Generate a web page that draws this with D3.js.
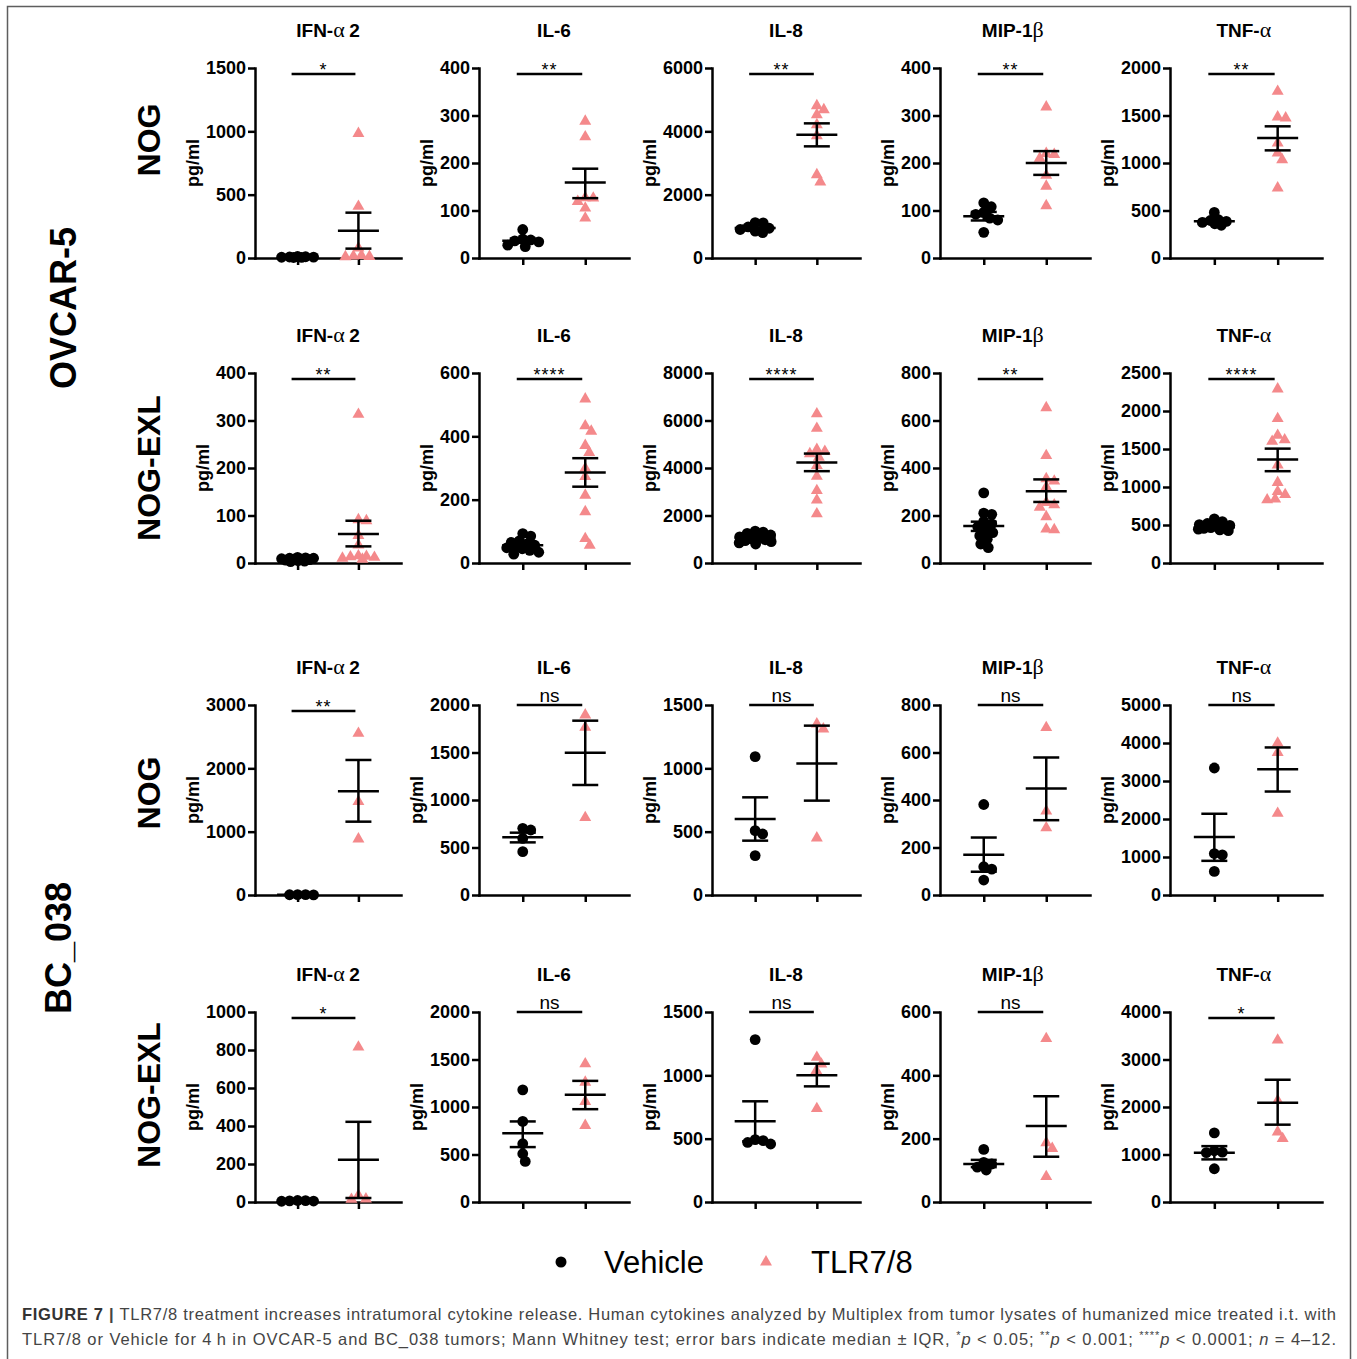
<!DOCTYPE html>
<html>
<head>
<meta charset="utf-8">
<script src="https://cdn.jsdelivr.net/npm/d3@7"></script>
<style>
  body { margin: 0; background: #fff; }
  svg { display: block; }
  text { font-family: "Liberation Sans", Arial, Helvetica, sans-serif; }
</style>
</head>
<body>
<svg id="fig" width="1357" height="1359"></svg>
<script>
// ---- data ---------------------------------------------------------------
const cytokines = ["IFN-α2", "IL-6", "IL-8", "MIP-1β", "TNF-α"];
const groups = ["Vehicle", "TLR7/8"];
const tumors = ["OVCAR-5", "BC_038"];
const models = ["NOG", "NOG-EXL", "NOG", "NOG-EXL"];

// y-axis maximum and tick step, one row per tumor/model panel row
const yMax  = [[1500, 400, 6000, 400, 2000],
               [400, 600, 8000, 800, 2500],
               [3000, 2000, 1500, 800, 5000],
               [1000, 2000, 1500, 600, 4000]];
const yStep = [[500, 100, 2000, 100, 500],
               [100, 200, 2000, 200, 500],
               [1000, 500, 500, 200, 1000],
               [200, 500, 500, 200, 1000]];

const significance = [["*", "**", "**", "**", "**"],
                      ["**", "****", "****", "**", "****"],
                      ["**", "ns", "ns", "ns", "ns"],
                      ["*", "ns", "ns", "ns", "*"]];

// individual measurements, pg/ml
const vehicleValues = [
  [[4, 6, 8, 10, 5, 7, 12],
   [60, 40, 38, 36, 34, 27, 24],
   [1120, 1110, 980, 940, 900, 850, 800],
   [116, 108, 96, 92, 84, 80, 54],
   [480, 405, 395, 385, 375, 360, 345]],
  [[12, 11, 10, 10, 9, 8, 8, 7, 6, 5, 4, 3],
   [93, 85, 70, 65, 60, 56, 52, 48, 45, 40, 34, 28],
   [1340, 1300, 1250, 1180, 1100, 1060, 1020, 980, 940, 900, 850, 800],
   [295, 210, 205, 175, 165, 152, 140, 128, 115, 100, 80, 65],
   [580, 545, 520, 505, 495, 485, 475, 465, 455, 445, 435, 425]],
  [[5, 3, 4, 6],
   [702, 684, 596, 456],
   [1092, 508, 482, 311],
   [381, 119, 109, 63],
   [3342, 1091, 1056, 620]],
  [[8, 6, 5, 7, 4],
   [1180, 848, 613, 508, 427],
   [1282, 492, 485, 458, 470],
   [166, 125, 120, 101, 110],
   [1454, 1078, 1050, 1040, 700]]
];
const tlrValues = [
  [[983, 408, 79, 15, 10, 12, 20],
   [288, 255, 126, 119, 127, 105, 84],
   [4810, 4684, 4526, 4210, 3863, 2631, 2400],
   [318, 220, 218, 210, 174, 151, 110],
   [1754, 1484, 1474, 1210, 1105, 1035, 737]],
  [[313, 91, 89, 58, 38, 15, 12, 10, 14, 8, 13],
   [518, 433, 416, 371, 349, 299, 273, 214, 162, 77, 56],
   [6280, 5670, 4780, 4700, 4600, 4450, 4100, 3650, 3050, 2650, 2070],
   [654, 452, 355, 345, 320, 255, 245, 235, 195, 143, 140],
   [2290, 1900, 1680, 1620, 1600, 1290, 1060, 940, 900, 840, 830]],
  [[2553, 1474, 884],
   [1895, 1765, 814],
   [1350, 1311, 450],
   [705, 353, 283],
   [3997, 3752, 2147]],
  [[815, 35, 16, 14],
   [1454, 1261, 1058, 806],
   [1142, 1089, 1037, 737],
   [516, 187, 169, 80],
   [3409, 2136, 1475, 1336]]
];

// error bars: [centre, lower, upper]
const vehicleBars = [
  [[7, 5, 10], [36.5, 32, 41], [947, 874, 1021], [88, 79, 97], [386, 361, 410]],
  [[9, 6, 11], [56, 45, 67], [1061, 949, 1159], [156, 135, 174], [471, 449, 493]],
  [[4, 3, 5], [607, 554, 656], [600, 429, 771], [169, 98, 242], [1527, 899, 2138]],
  [[6, 5, 7], [725, 578, 848], [637, 479, 795], [120, 110, 133], [1037, 897, 1176]]
];
const tlrBars = [
  [[216, 74, 358], [159, 126, 188], [3895, 3526, 4252], [200, 175, 225], [1263, 1133, 1386]],
  [[61, 35, 89], [286, 241, 331], [4230, 3867, 4607], [302, 257, 352], [1361, 1208, 1505]],
  [[1637, 1158, 2132], [1498, 1158, 1835], [1039, 745, 1337], [448, 315, 579], [3307, 2723, 3883]],
  [[223, 21, 422], [1128, 977, 1275], [1000, 913, 1092], [240, 143, 334], [2087, 1628, 2574]]
];

// ---- layout -------------------------------------------------------------
const colX = [255, 479, 712, 940, 1170];
const colW = [146, 150, 148, 150, 152];
const rowTop = [68, 373, 705, 1012];
const plotH = 190;
const modelLabelY = [140, 468, 793, 1095];
const tumorLabelY = [308, 948];
const tumorLabelX = [76, 71];
const TLR_COLOR = "#F4898B";
const STROKE = 2.5;

const svg = d3.select("#fig");

// frame
svg.append("rect")
  .attr("x", 7.5).attr("y", 6.5)
  .attr("width", 1343).attr("height", 1370)
  .attr("fill", "none").attr("stroke", "#5e5e5e").attr("stroke-width", 1.5);

// split a label so Greek letters get a symbol-like serif face
function richLabel(sel, label) {
  const parts = label.match(/[α-ω]|[^α-ω]+/g);
  parts.forEach(p => {
    const greek = /[α-ω]/.test(p);
    sel.append("tspan")
      .attr("font-family", greek ? "'Liberation Serif', 'DejaVu Serif', serif" : null)
      .attr("font-weight", greek ? "normal" : null)
      .attr("font-size", greek ? "22px" : null)
      .text(greek ? p + "\u2009" : p);
  });
}

// compact beeswarm: spread points sideways within a fixed half-width,
// letting them overlap once the strip is full
function swarm(vals, y, minD, maxSpread) {
  const pts = vals.map(v => ({ v, py: y(v) })).sort((a, b) => a.py - b.py);
  const placed = [];
  pts.forEach(p => {
    let chosen = null, bestCand = 0, bestGap = -1;
    for (let k = 0; ; k++) {
      const cand = (k % 2 ? 1 : -1) * Math.ceil(k / 2) * 0.5;
      if (Math.abs(cand) > maxSpread) break;
      const gap = placed.length
        ? d3.min(placed, q => Math.hypot(q.dx - cand, q.py - p.py))
        : Infinity;
      if (gap >= minD) { chosen = cand; break; }
      if (gap > bestGap) { bestGap = gap; bestCand = cand; }
    }
    p.dx = chosen !== null ? chosen : bestCand;
    placed.push(p);
  });
  return pts;
}

const triangle = d3.symbol().type(d3.symbolTriangle).size(62);

models.forEach((model, ri) => {
  cytokines.forEach((name, ci) => {
    const g = svg.append("g").attr("transform", `translate(${colX[ci]},${rowTop[ri]})`);
    const y = d3.scaleLinear().domain([0, yMax[ri][ci]]).range([plotH, 0]);
    const x = d3.scalePoint().domain(groups).range([0, colW[ci]]).padding(0.7);
    const ticks = d3.range(0, yMax[ri][ci] + 1e-6, yStep[ri][ci]);

    // title
    const title = g.append("text")
      .attr("x", (x(groups[0]) + x(groups[1])) / 2)
      .attr("y", -31)
      .attr("text-anchor", "middle")
      .attr("font-weight", "bold")
      .attr("font-size", "19px");
    richLabel(title, name);

    // axes
    const yAxisG = g.append("g")
      .call(d3.axisLeft(y).tickValues(ticks).tickSize(7).tickPadding(2).tickSizeOuter(0).tickFormat(d3.format("d")));
    const xAxisG = g.append("g").attr("transform", `translate(0,${plotH})`)
      .call(d3.axisBottom(x).tickSize(7).tickSizeOuter(0).tickFormat(""));
    [yAxisG, xAxisG].forEach(a => {
      a.select(".domain").attr("stroke", "#000").attr("stroke-width", STROKE).attr("stroke-linecap", "square");
      a.selectAll(".tick line").attr("stroke", "#000").attr("stroke-width", STROKE);
      a.selectAll(".tick text").attr("fill", "#000").attr("font-size", "18px")
        .attr("font-weight", "bold").attr("font-family", "'Liberation Sans', Arial, sans-serif");
    });

    // y-axis title, placed just left of the widest tick label
    const bb = yAxisG.node().getBBox();
    g.append("text")
      .attr("transform", `translate(${bb.x - 7},${plotH / 2}) rotate(-90)`)
      .attr("text-anchor", "middle")
      .attr("font-weight", "bold")
      .attr("font-size", "18px")
      .text("pg/ml");

    // points
    swarm(vehicleValues[ri][ci], y, 8, 16).forEach(p => {
      g.append("circle")
        .attr("cx", x(groups[0]) + p.dx).attr("cy", p.py).attr("r", 5.4)
        .attr("fill", "#000");
    });
    swarm(tlrValues[ri][ci], y, 8, 16).forEach(p => {
      g.append("path")
        .attr("d", triangle())
        .attr("transform", `translate(${x(groups[1]) + p.dx},${p.py})`)
        .attr("fill", TLR_COLOR);
    });

    // centre line with lower/upper whiskers
    [vehicleBars[ri][ci], tlrBars[ri][ci]].forEach((b, gi) => {
      const cx = x(groups[gi]);
      const [mid, lo, hi] = b;
      const eb = g.append("g").attr("stroke", "#000").attr("stroke-width", STROKE);
      eb.append("line").attr("x1", cx).attr("x2", cx).attr("y1", y(lo)).attr("y2", y(hi));
      eb.append("line").attr("x1", cx - 13).attr("x2", cx + 13).attr("y1", y(lo)).attr("y2", y(lo));
      eb.append("line").attr("x1", cx - 13).attr("x2", cx + 13).attr("y1", y(hi)).attr("y2", y(hi));
      eb.append("line").attr("x1", cx - 20.5).attr("x2", cx + 20.5).attr("y1", y(mid)).attr("y2", y(mid));
    });

    // significance bracket
    const sig = significance[ri][ci];
    const isNs = sig === "ns";
    const barY = isNs ? 0 : 6;
    const x1 = x(groups[0]) - 6, x2 = x(groups[1]) - 3;
    g.append("line")
      .attr("x1", x1).attr("x2", x2).attr("y1", barY).attr("y2", barY)
      .attr("stroke", "#000").attr("stroke-width", STROKE);
    g.append("text")
      .attr("x", (x1 + x2) / 2)
      .attr("y", isNs ? barY - 3 : barY + 1.5)
      .attr("text-anchor", "middle")
      .attr("font-size", isNs ? "19px" : "18px")
      .attr("letter-spacing", isNs ? null : "1px")
      .text(sig);
  });

  // mouse model label
  svg.append("text")
    .attr("transform", `translate(160,${modelLabelY[ri]}) rotate(-90)`)
    .attr("text-anchor", "middle")
    .attr("font-weight", "bold")
    .attr("font-size", "32px")
    .text(model);
});

// tumor labels
tumors.forEach((t, i) => {
  svg.append("text")
    .attr("transform", `translate(${tumorLabelX[i]},${tumorLabelY[i]}) rotate(-90)`)
    .attr("text-anchor", "middle")
    .attr("font-weight", "bold")
    .attr("font-size", "36px")
    .text(t);
});

// legend
const legend = svg.append("g").attr("transform", "translate(0,1262)");
legend.append("circle").attr("cx", 561).attr("cy", 0).attr("r", 5.5).attr("fill", "#000");
legend.append("text").attr("x", 604).attr("y", 11).attr("font-size", "31px").text(groups[0]);
legend.append("path").attr("d", triangle()).attr("transform", "translate(766,0)").attr("fill", TLR_COLOR);
legend.append("text").attr("x", 811).attr("y", 11).attr("font-size", "31px").text(groups[1]);

// caption
const capFont = "'Liberation Sans', Arial, sans-serif";
const cap1 = svg.append("text")
  .attr("x", 22).attr("y", 1320)
  .attr("font-family", capFont)
  .attr("font-size", "16.5px").attr("fill", "#444")
  .attr("textLength", 1314).attr("lengthAdjust", "spacing");
cap1.append("tspan").attr("font-weight", "bold").attr("fill", "#333").text("FIGURE 7");
cap1.append("tspan").attr("font-weight", "bold").text(" | ");
cap1.append("tspan").text("TLR7/8 treatment increases intratumoral cytokine release. Human cytokines analyzed by Multiplex from tumor lysates of humanized mice treated i.t. with");

const cap2 = svg.append("text")
  .attr("x", 22).attr("y", 1345)
  .attr("font-family", capFont)
  .attr("font-size", "16.5px").attr("fill", "#444")
  .attr("textLength", 1314).attr("lengthAdjust", "spacing");
const sup = (s) => cap2.append("tspan").attr("font-size", "11px").attr("dy", -6).text(s);
const norm = (s, italic) => cap2.append("tspan").attr("dy", 0).attr("font-style", italic ? "italic" : null).text(s);
const ital = (s) => cap2.append("tspan").attr("dy", 6).attr("font-style", "italic").text(s);
norm("TLR7/8 or Vehicle for 4\u2009h in OVCAR-5 and BC_038 tumors; Mann Whitney test; error bars indicate median \u00B1 IQR, ");
sup("*"); ital("p");
norm(" < 0.05; ");
sup("**"); ital("p");
norm(" < 0.001; ");
sup("****"); ital("p");
norm(" < 0.0001; ");
norm("n", true);
norm(" = 4\u201312.");
</script>
</body>
</html>
